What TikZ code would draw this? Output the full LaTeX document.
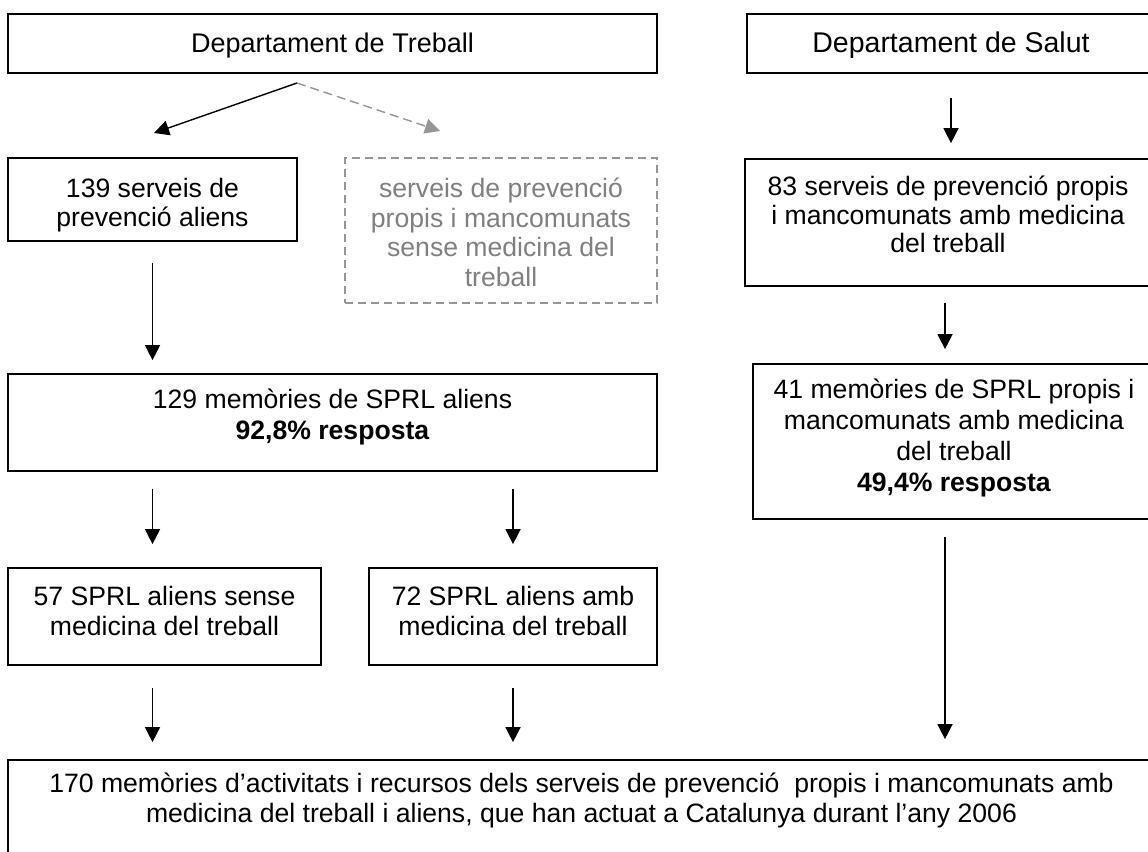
\documentclass[tikz,border=0pt]{standalone}
\usepackage{fontspec}
\setmainfont{Liberation Sans}
\usetikzlibrary{arrows.meta,calc}
\definecolor{txtgray}{RGB}{128,128,128}
\definecolor{linegray}{RGB}{150,150,150}
\begin{document}
\begin{tikzpicture}[x=1pt,y=-1pt,
  boxn/.style={draw=black, line width=1.7pt, inner sep=0pt, rectangle},
  dashbox/.style={draw=linegray, line width=1.6pt, dash pattern=on 8pt off 5pt, inner sep=0pt, rectangle},
  txt/.style={anchor=north, inner sep=0pt, align=center, font=\fontsize{26.6}{29.5}\selectfont},
  arr/.style={line width=1.4pt, -{Triangle[length=15pt,width=15pt]}},
  darr/.style={arr, draw=linegray, dash pattern=on 9pt off 5pt}
]
\useasboundingbox (0,0) rectangle (1148,851);
\clip (0,0) rectangle (1148,851);
\fill[white] (0,0) rectangle (1148,851);

% boxes
\node[boxn, minimum width=649pt, minimum height=59pt] (treb) at (332.5,43.5) {};
\node[boxn, minimum width=408pt, minimum height=59pt] (salut) at (951,43.5) {};
\node[boxn, minimum width=289pt, minimum height=83pt] (n139) at (152.5,199.5) {};
\node[dashbox, minimum width=312pt, minimum height=145pt] (ndash) at (501,230.5) {};
\node[boxn, minimum width=406pt, minimum height=127pt] (n83) at (948,222.5) {};
\node[boxn, minimum width=649pt, minimum height=97pt] (n129) at (332.5,422.5) {};
\node[boxn, minimum width=402pt, minimum height=155pt] (n41) at (954,441.5) {};
\node[boxn, minimum width=313pt, minimum height=97pt] (n57) at (164.5,616.5) {};
\node[boxn, minimum width=288pt, minimum height=97pt] (n72) at (513,616.5) {};
\node[boxn, minimum width=1147pt, minimum height=140pt] (nbot) at (581.5,830) {};

% texts (north = first baseline - 19pt)
\node[txt, font=\fontsize{27}{29.5}\selectfont] (tTreb) at (332.5,33) {Departament de Treball};
\node[txt, font=\fontsize{28.5}{29.5}\selectfont] (tSalut) at (951,32) {Departament de Salut};
\node[txt] (t139) at (152.5,178) {139 serveis de\\prevenció aliens};
\node[txt, text=txtgray] (tdash) at (501,178) {serveis de prevenció\\propis i mancomunats\\sense medicina del\\treball};
\node[txt, font=\fontsize{26.6}{28.3}\selectfont] (t83) at (948,176) {83 serveis de prevenció propis\\i mancomunats amb medicina\\del treball};
\node[txt, font=\fontsize{26.6}{30.5}\selectfont] (t129) at (332.5,389) {129 memòries de SPRL aliens\\\textbf{92,8\% resposta}};
\node[txt, font=\fontsize{26.6}{30.8}\selectfont] (t41) at (954,379) {41 memòries de SPRL propis i\\mancomunats amb medicina\\del treball\\\textbf{49,4\% resposta}};
\node[txt, font=\fontsize{26.6}{30}\selectfont] (t57) at (164.5,586) {57 SPRL aliens sense\\medicina del treball};
\node[txt, font=\fontsize{26.6}{30}\selectfont] (t72) at (513,586) {72 SPRL aliens amb\\medicina del treball};
\node[txt] (tbot) at (581.5,773) {170 memòries d’activitats i recursos dels serveis de prevenció\ \ propis i mancomunats amb\\medicina del treball i aliens, que han actuat a Catalunya durant l’any 2006};

% connectors
\coordinate (split) at (297,83);
\coordinate (tipL) at (154,133);
\coordinate (tipR) at (440,131);
\draw[arr] (split) -- (tipL);
\draw[darr] (split) -- (tipR);

\draw[arr, shorten <=24pt, shorten >=15pt] (salut.south) -- (salut.south |- n83.north);
\draw[arr, shorten <=16pt, shorten >=14pt] ([xshift=-3pt]n83.south) -- ([xshift=-3pt]n83.south |- n41.north);
\draw[arr, shorten <=17pt, shorten >=20pt] ([xshift=-9pt]n41.south) -- ([xshift=-9pt]n41.south |- nbot.north);

\draw[arr, shorten <=21pt, shorten >=13pt] (n139.south) -- (n139.south |- n129.north);
\draw[arr, shorten <=17pt, shorten >=23pt] (n139.south |- n129.south) -- (n139.south |- n57.north);
\draw[arr, shorten <=17pt, shorten >=23pt] (n72.north |- n129.south) -- (n72.north);
\draw[arr, shorten <=22pt, shorten >=17pt] (n139.south |- n57.south) -- (n139.south |- nbot.north);
\draw[arr, shorten <=22pt, shorten >=17pt] (n72.south) -- (n72.south |- nbot.north);
\end{tikzpicture}
\end{document}
